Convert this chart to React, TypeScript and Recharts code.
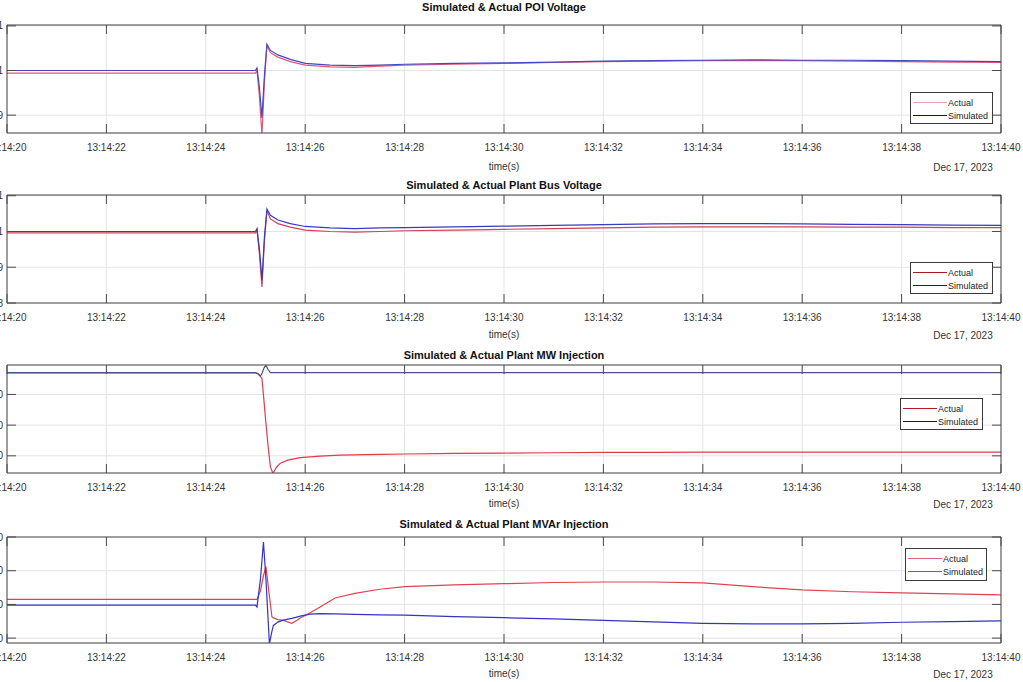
import React from 'react';
import { LineChart, Line, XAxis, YAxis, CartesianGrid } from 'recharts';

// time axis: seconds after 13:14:20
const timeTicks = [0, 2, 4, 6, 8, 10, 12, 14, 16, 18, 20];
const timeLabels = ['13:14:20', '13:14:22', '13:14:24', '13:14:26', '13:14:28', '13:14:30', '13:14:32', '13:14:34', '13:14:36', '13:14:38', '13:14:40'];

// POI voltage (pu)
const poiTime = [0, 1, 2, 3, 4, 5, 5.03, 5.08, 5.13, 5.18, 5.23, 5.3, 5.45, 5.7, 6, 6.5, 7, 7.5, 8, 9, 10, 11, 12, 13, 14, 15, 16, 17, 18, 19, 20];
const poiActual = [0.9994, 0.9994, 0.9994, 0.9994, 0.9994, 0.9994, 1.0, 0.994, 0.9855, 0.9975, 1.0056, 1.004, 1.003, 1.002, 1.0012, 1.0008, 1.0007, 1.001, 1.0012, 1.0014, 1.0016, 1.0018, 1.002, 1.0021, 1.0022, 1.0022, 1.0022, 1.0021, 1.002, 1.0019, 1.0018];
const poiSimulated = [1.0, 1.0, 1.0, 1.0, 1.0, 1.0, 1.0006, 0.996, 0.9894, 0.999, 1.0059, 1.0045, 1.0035, 1.0025, 1.0016, 1.0012, 1.0011, 1.0012, 1.0014, 1.0016, 1.0017, 1.0019, 1.0021, 1.0022, 1.0023, 1.0024, 1.0023, 1.0023, 1.0022, 1.0021, 1.002];
const poiTicks = [0.99, 1, 1.01];
const poiTickLabels = ['0.99', '1', '1.01'];

// plant bus voltage (pu)
const busTime = [0, 1, 2, 3, 4, 5, 5.03, 5.08, 5.13, 5.18, 5.23, 5.3, 5.45, 5.7, 6, 6.5, 7, 7.5, 8, 9, 10, 11, 12, 13, 14, 15, 16, 17, 18, 19, 20];
const busActual = [0.9996, 0.9996, 0.9996, 0.9996, 0.9996, 0.9996, 1.0004, 0.9935, 0.9845, 0.9975, 1.0058, 1.0035, 1.0022, 1.0012, 1.0004, 1.0, 0.9998, 1.0, 1.0002, 1.0004, 1.0006, 1.0008, 1.001, 1.0012, 1.0013, 1.0013, 1.0013, 1.0012, 1.0012, 1.0011, 1.0011];
const busSimulated = [1.0, 1.0, 1.0, 1.0, 1.0, 1.0, 1.0008, 0.995, 0.9864, 0.9985, 1.0063, 1.0045, 1.0032, 1.0022, 1.0014, 1.001, 1.0008, 1.001, 1.0011, 1.0013, 1.0015, 1.0017, 1.0019, 1.0021, 1.0022, 1.0022, 1.0021, 1.002, 1.0019, 1.0018, 1.0017];
const busTicks = [0.98, 0.99, 1, 1.01];
const busTickLabels = ['0.98', '0.99', '1', '1.01'];

// plant MW injection
const mwTime = [0, 1, 2, 3, 4, 5, 5.05, 5.1, 5.13, 5.17, 5.21, 5.25, 5.3, 5.35, 5.42, 5.5, 5.65, 5.9, 6.3, 6.7, 7.5, 8, 9, 10, 11, 12, 13, 14, 15, 16, 17, 18, 19, 20];
const mwActual = [185, 185, 185, 185, 185, 185, 183.5, 179, 176, 140, 103, 68, 32, 21.5, 31, 38, 43, 47, 49.5, 51, 52.5, 53, 54, 54.5, 55, 55.5, 55.5, 56, 56, 56, 56, 56, 56, 56];
const mwSimulated = [185.5, 185.5, 185.5, 185.5, 185.5, 185.5, 184, 180, 184, 193, 197.5, 191, 185.5, 185.5, 185.5, 185.5, 185.5, 185.5, 185.5, 185.5, 185.5, 185.5, 185.5, 185.5, 185.5, 185.5, 185.5, 185.5, 185.5, 185.5, 185.5, 185.5, 185.5, 185.5];
const mwTicks = [50, 100, 150];
const mwTickLabels = ['50', '100', '150'];

// plant MVAr injection
const mvarTime = [0, 1, 2, 3, 4, 5, 5.03, 5.1, 5.16, 5.21, 5.28, 5.33, 5.36, 5.45, 5.56, 5.73, 5.83, 5.9, 6.1, 6.3, 6.6, 7, 7.5, 8, 9, 10, 11, 12, 13, 14, 15, 16, 17, 18, 19, 20];
const mvarActual = [3, 3, 3, 3, 3, 3, 3, 8, 17, 22.4, 5, -7.3, -8, -9, -9.5, -11.2, -9.5, -8, -5, -1.5, 3.8, 6.5, 9, 10.5, 11.6, 12.3, 13, 13.3, 13.3, 12.8, 10.5, 8.6, 7.5, 6.9, 6.2, 5.6];
const mvarSimulated = [-0.4, -0.4, -0.4, -0.4, -0.4, -0.4, -1.5, 15, 37, 15, -23.5, -16, -12.5, -10.5, -9.3, -8.3, -7.5, -7, -5.8, -5.5, -5.6, -5.9, -6.2, -6.4, -7.2, -7.9, -8.6, -9.5, -10.4, -11.2, -11.5, -11.5, -11.3, -10.6, -10.2, -9.8];
const mvarTicks = [-20, 0, 20, 40];
const mvarTickLabels = ['-20', '0', '20', '40'];

const FONT = '"Liberation Sans", Arial, Helvetica, sans-serif';
const AXIS = '#4a4a4a';
const TEXT = '#333333';
const PLOT_LEFT = 7;
const PLOT_RIGHT = 1001;
const Y_AXIS_W = 40;
const R_AXIS_W = 10;
const RIGHT_PAD = 24; // room so the last time label is not clipped by the svg
const TOP_AXIS_H = 6;
const BOTTOM_AXIS_H = 26;
const TICK_LEN = 9;

const timeLabel = (v: number) => timeLabels[timeTicks.indexOf(v)] ?? '';

interface PanelCfg {
  title: string;
  titleY: number;
  plotTop: number;
  plotH: number;
  timeY: number;
  time: number[];
  actual: number[];
  simulated: number[];
  domain: [number, number];
  yTicks: number[];
  yLabels: string[];
  lineColors: [string, string];
  legendColors: [string, string];
  legendBox: { left: number; top: number; width: number; height: number };
}

const LegendBox: React.FC<{ cfg: PanelCfg }> = ({ cfg }) => {
  const { left, top, width, height } = cfg.legendBox;
  const rows = [
    { name: 'Actual', color: cfg.legendColors[0], y: 10 },
    { name: 'Simulated', color: cfg.legendColors[1], y: 23 },
  ];
  return (
    <div style={{ position: 'absolute', left, top, width, height, boxSizing: 'border-box', border: '1px solid #3a3a3a', background: '#fff' }}>
      {rows.map(r => (
        <React.Fragment key={r.name}>
          <div style={{ position: 'absolute', left: 2, top: r.y - 1, width: 34, height: 1, background: r.color }} />
          <div style={{ position: 'absolute', left: 37, top: r.y - 6, fontSize: 9, lineHeight: '12px', fontFamily: FONT, color: '#222' }}>{r.name}</div>
        </React.Fragment>
      ))}
    </div>
  );
};

const Panel: React.FC<{ cfg: PanelCfg }> = ({ cfg }) => {
  const data = cfg.time.map((t, i) => ({ t, actual: cfg.actual[i], simulated: cfg.simulated[i] }));
  const chartLeft = PLOT_LEFT - Y_AXIS_W;
  const width = PLOT_RIGHT - chartLeft + R_AXIS_W + RIGHT_PAD;
  const height = TOP_AXIS_H + cfg.plotH + BOTTOM_AXIS_H;
  const yLabel = (v: number) => cfg.yLabels[cfg.yTicks.indexOf(v)] ?? '';

  const bottomTick = (p: any) => (
    <g>
      <line x1={p.x} x2={p.x} y1={p.y} y2={p.y - TICK_LEN} stroke={AXIS} />
      <text x={p.x} y={p.y + 17.5} textAnchor="middle" fontSize={10} fontFamily={FONT} fill={TEXT}>{timeLabel(p.payload.value)}</text>
    </g>
  );
  const topTick = (p: any) => <line x1={p.x} x2={p.x} y1={p.y} y2={p.y + TICK_LEN} stroke={AXIS} />;
  const leftTick = (p: any) => (
    <g>
      <line x1={p.x} x2={p.x + TICK_LEN} y1={p.y} y2={p.y} stroke={AXIS} />
      <text x={p.x - 4} y={p.y + 3.5} textAnchor="end" fontSize={10} fontFamily={FONT} fill={TEXT}>{yLabel(p.payload.value)}</text>
    </g>
  );
  const rightTick = (p: any) => <line x1={p.x} x2={p.x - TICK_LEN} y1={p.y} y2={p.y} stroke={AXIS} />;

  return (
    <>
      <div style={{ position: 'absolute', left: 0, width: 1008, top: cfg.titleY - 7, textAlign: 'center', fontSize: 11, lineHeight: '14px', fontWeight: 'bold', fontFamily: FONT, color: '#111' }}>
        {cfg.title}
      </div>
      <div style={{ position: 'absolute', left: chartLeft, top: cfg.plotTop - TOP_AXIS_H }}>
        <LineChart width={width} height={height} data={data} margin={{ top: 0, right: RIGHT_PAD, bottom: 0, left: 0 }}>
          <CartesianGrid stroke="#e4e4e4" />
          <XAxis dataKey="t" type="number" domain={[0, 20]} ticks={timeTicks} interval={0} height={BOTTOM_AXIS_H}
            stroke={AXIS} tickLine={false} tickSize={0} tickMargin={0} tick={bottomTick} allowDataOverflow />
          <XAxis xAxisId="top" orientation="top" dataKey="t" type="number" domain={[0, 20]} ticks={timeTicks} interval={0} height={TOP_AXIS_H}
            stroke={AXIS} tickLine={false} tickSize={0} tickMargin={0} tick={topTick} allowDataOverflow />
          <YAxis type="number" domain={cfg.domain} ticks={cfg.yTicks} interval={0} width={Y_AXIS_W}
            stroke={AXIS} tickLine={false} tickSize={0} tickMargin={0} tick={leftTick} allowDataOverflow />
          <YAxis yAxisId="r" orientation="right" type="number" domain={cfg.domain} ticks={cfg.yTicks} interval={0} width={R_AXIS_W}
            stroke={AXIS} tickLine={false} tickSize={0} tickMargin={0} tick={rightTick} allowDataOverflow />
          <Line type="linear" dataKey="actual" stroke={cfg.lineColors[0]} strokeWidth={1.2} dot={false} isAnimationActive={false} />
          <Line type="linear" dataKey="simulated" stroke={cfg.lineColors[1]} strokeWidth={1.2} dot={false} isAnimationActive={false} />
        </LineChart>
      </div>
      <div style={{ position: 'absolute', left: 0, width: 1008, top: cfg.timeY - 7, textAlign: 'center', fontSize: 10, lineHeight: '14px', fontFamily: FONT, color: TEXT }}>
        time(s)
      </div>
      <div style={{ position: 'absolute', left: 900, width: 126, top: cfg.timeY - 6, textAlign: 'center', fontSize: 10, lineHeight: '14px', fontFamily: FONT, color: TEXT }}>
        Dec 17, 2023
      </div>
      <LegendBox cfg={cfg} />
    </>
  );
};

const panels: PanelCfg[] = [
  {
    title: 'Simulated & Actual POI Voltage', titleY: 7, plotTop: 25, plotH: 108, timeY: 167,
    time: poiTime, actual: poiActual, simulated: poiSimulated,
    domain: [0.986, 1.0102], yTicks: poiTicks, yLabels: poiTickLabels,
    lineColors: ['#e0587a', '#4646c4'], legendColors: ['#e8a0b2', '#14143a'],
    legendBox: { left: 910, top: 92, width: 83, height: 32 },
  },
  {
    title: 'Simulated & Actual Plant Bus Voltage', titleY: 185, plotTop: 195, plotH: 108, timeY: 335,
    time: busTime, actual: busActual, simulated: busSimulated,
    domain: [0.98, 1.0102], yTicks: busTicks, yLabels: busTickLabels,
    lineColors: ['#cc4458', '#3a3ac0'], legendColors: ['#a01c20', '#1a1a78'],
    legendBox: { left: 910, top: 262, width: 83, height: 32 },
  },
  {
    title: 'Simulated & Actual Plant MW Injection', titleY: 355, plotTop: 365, plotH: 108, timeY: 504,
    time: mwTime, actual: mwActual, simulated: mwSimulated,
    domain: [22, 198], yTicks: mwTicks, yLabels: mwTickLabels,
    lineColors: ['#e03a4c', '#505086'], legendColors: ['#b01c2a', '#1a1a2a'],
    legendBox: { left: 900, top: 398, width: 83, height: 32 },
  },
  {
    title: 'Simulated & Actual Plant MVAr Injection', titleY: 524, plotTop: 537, plotH: 106, timeY: 674,
    time: mvarTime, actual: mvarActual, simulated: mvarSimulated,
    domain: [-22.9, 40], yTicks: mvarTicks, yLabels: mvarTickLabels,
    lineColors: ['#e04252', '#3434c0'], legendColors: ['#e06272', '#6262b0'],
    legendBox: { left: 905, top: 548, width: 82, height: 33 },
  },
];

export default function App() {
  return (
    <div style={{ position: 'fixed', left: 0, top: 0, width: 1023, height: 682, overflow: 'hidden', background: '#fff' }}>
      {panels.map(p => <Panel key={p.title} cfg={p} />)}
    </div>
  );
}
